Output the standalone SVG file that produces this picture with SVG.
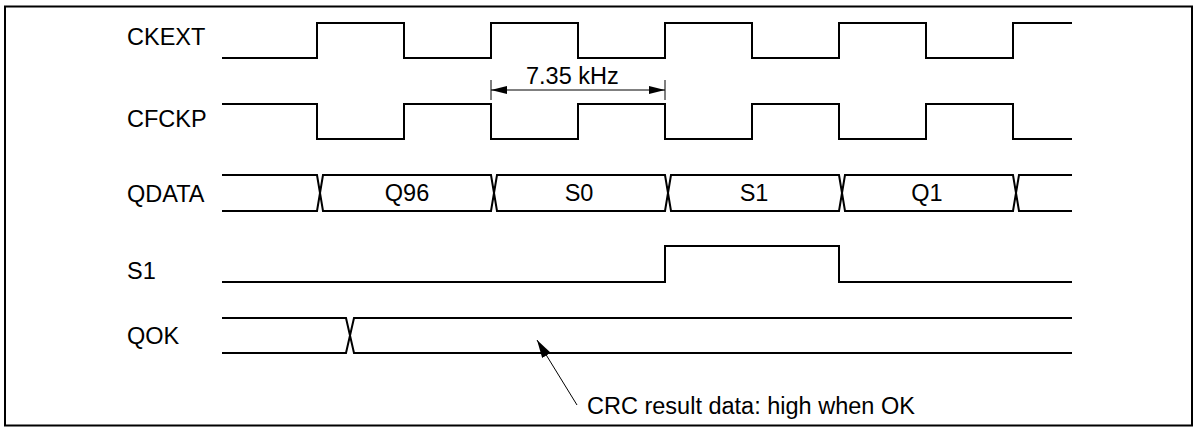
<svg xmlns="http://www.w3.org/2000/svg" width="1200" height="432" viewBox="0 0 1200 432">
<style>
.lbl{font-family:"Liberation Sans",Arial,sans-serif;font-size:23.5px;fill:#000}
.mid{text-anchor:middle}
.sig{fill:none;stroke:#000;stroke-width:2;stroke-linejoin:miter}
.thin{fill:none;stroke:#000;stroke-width:1}
</style>
<defs>
<marker id="ah" viewBox="0 0 16 8" refX="16" refY="4" markerWidth="16" markerHeight="8" markerUnits="userSpaceOnUse" orient="auto-start-reverse">
<path d="M0,0 L16,4 L0,8 Z" fill="#000"/>
</marker>
<marker id="ah2" viewBox="0 0 18 10" refX="18" refY="5" markerWidth="18" markerHeight="10" markerUnits="userSpaceOnUse" orient="auto">
<path d="M0,0 L18,5 L0,10 Z" fill="#000"/>
</marker>
</defs>
<rect x="5" y="6.5" width="1187" height="419" fill="#fff" stroke="#000" stroke-width="2"/>
<g id="ckext">
<text class="lbl" x="127" y="45">CKEXT</text>
<path class="sig" d="M222,58 H317 V23 H404 V58 H491 V23 H578 V58 H665 V23 H752 V58 H839 V23 H926 V58 H1013 V23 H1072"/>
</g>
<g id="cfckp">
<text class="lbl" x="127" y="127">CFCKP</text>
<path class="sig" d="M222,104 H317 V139 H404 V104 H491 V139 H578 V104 H665 V139 H752 V104 H839 V139 H926 V104 H1013 V139 H1072"/>
</g>
<g id="qdata">
<text class="lbl" x="127" y="202">QDATA</text>
<path class="sig" d="M222,175 H317 L323,211 H491 L497,175 H665 L671,211 H839 L845,175 H1013 L1019,211 H1072"/>
<path class="sig" d="M222,211 H317 L323,175 H491 L497,211 H665 L671,175 H839 L845,211 H1013 L1019,175 H1072"/>
<text class="lbl mid" x="407" y="201">Q96</text>
<text class="lbl mid" x="579" y="201">S0</text>
<text class="lbl mid" x="754" y="201">S1</text>
<text class="lbl mid" x="927" y="201">Q1</text>
</g>
<g id="s1">
<text class="lbl" x="127" y="279">S1</text>
<path class="sig" d="M222,282 H665 V246 H839 V282 H1072"/>
</g>
<g id="qok">
<text class="lbl" x="127" y="344">QOK</text>
<path class="sig" d="M222,318 H346 L354,353 H1072"/>
<path class="sig" d="M222,353 H346 L354,318 H1072"/>
</g>
<g id="connectors">
<line class="thin" x1="491" y1="80" x2="491" y2="100"/>
<line class="thin" x1="665" y1="80" x2="665" y2="100"/>
<line class="thin" x1="491" y1="90" x2="665" y2="90" marker-start="url(#ah)" marker-end="url(#ah)"/>
<line class="thin" x1="577" y1="405" x2="537" y2="340" marker-end="url(#ah2)"/>
</g>
<g id="annotations">
<text class="lbl" x="526" y="84">7.35 kHz</text>
<text class="lbl" x="587" y="414">CRC result data: high when OK</text>
</g>
</svg>
